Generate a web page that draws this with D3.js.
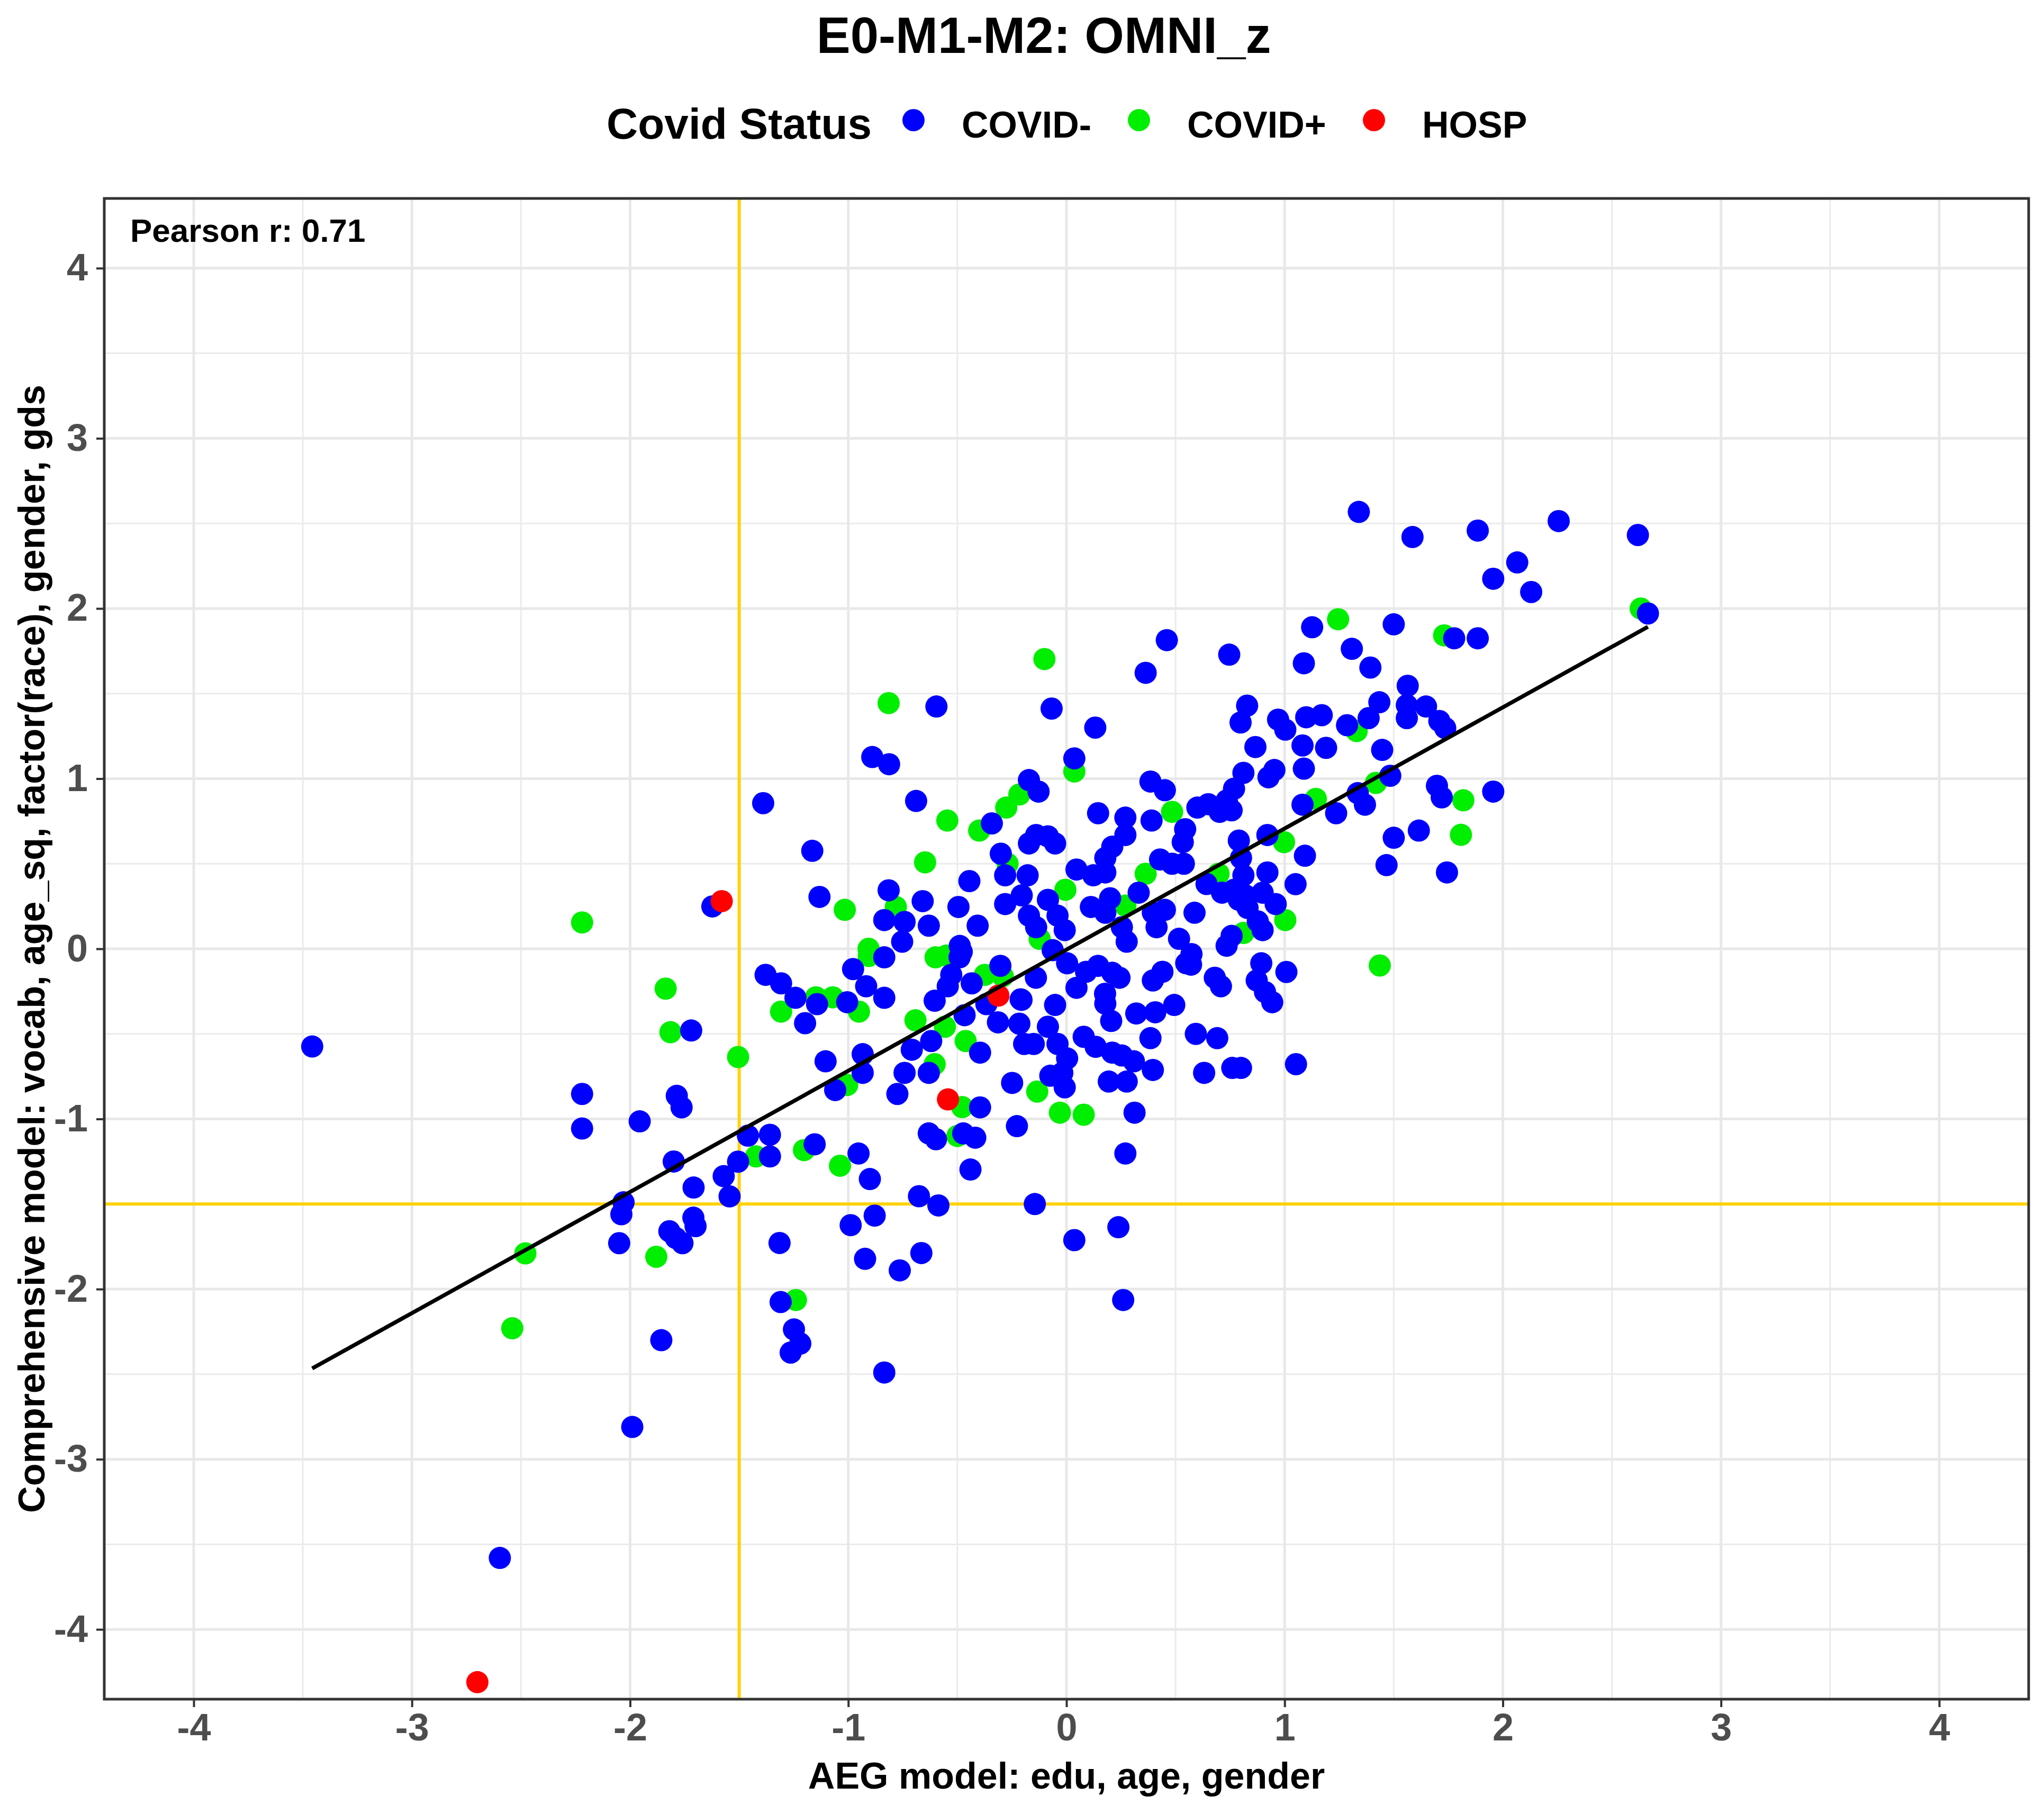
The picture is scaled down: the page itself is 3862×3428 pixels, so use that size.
<!DOCTYPE html>
<html><head><meta charset="utf-8">
<script src="https://cdn.jsdelivr.net/npm/d3@7"></script>
<style>body{margin:0;background:#fff} svg{display:block}</style>
</head><body>
<svg id="chart" width="3862" height="3428"></svg>
<script>
// ---- data ----
const covidNeg = [
[-3.457,-0.574],[-2.597,-3.58],[-1.99,-2.81],[-1.857,-2.30],
[-1.72,-0.48],[-2.22,-0.853],[-2.22,-1.056],[-1.956,-1.014],[-1.786,-0.864],[-1.764,-0.932],[-1.80,-1.25],[-1.709,-1.403],[-1.571,-1.336],[-1.505,-1.251],[-1.544,-1.455],[-1.46,-1.098],[-1.359,-1.093],[-1.359,-1.22],[-1.154,-1.149],[-0.953,-1.203],[-0.901,-1.353],[-0.989,-1.624],[-0.879,-1.568],[-0.923,-1.822],[-0.764,-1.89],[-0.676,-1.454],[-0.665,-1.788],[-2.03,-1.49],[-2.04,-1.56],[-2.05,-1.73],[-1.82,-1.66],[-1.79,-1.70],[-1.76,-1.73],[-1.71,-1.58],[-1.70,-1.63],[-1.315,-1.729],[-1.31,-2.076],[-1.249,-2.237],[-1.22,-2.32],[-1.264,-2.373],[-0.835,-2.49],
[-1.379,-0.153],[-1.308,-0.203],[-1.242,-0.288],[-1.198,-0.437],[-1.143,-0.325],[-1.005,-0.314],[-0.978,-0.119],[-0.918,-0.22],[-0.835,-0.288],[-0.835,-0.05],[-1.104,-0.661],[-0.934,-0.619],[-0.934,-0.729],[-1.06,-0.83],[-0.742,-0.729],[-0.775,-0.853],[-0.709,-0.593],
[-0.396,-0.932],[-0.631,-1.085],[-0.598,-1.119],[-0.473,-1.085],[-0.418,-1.11],[-0.44,-1.297],[-0.227,-1.042],[-0.249,-0.788],[0.312,-0.963],[0.27,-1.203],[-0.587,-1.508],[-0.145,-1.5],[0.238,-1.636],[0.036,-1.712],[0.26,-2.064],[0.631,-0.729],[0.76,-0.70],[0.80,-0.70],[0.593,-0.5],[0.691,-0.525],[1.052,-0.678],[1.008,-0.136],[0.893,-0.085],[0.872,-0.186],[0.910,-0.254],[0.943,-0.314],[0.68,-0.17],[0.708,-0.22],[0.571,-0.093],[0.396,-0.186],[0.44,-0.135],[0.494,-0.33],[0.407,-0.373],[0.385,-0.525],[0.32,-0.38],[0.549,-0.085],[0.205,-0.424],[0.178,-0.322],[0.243,-0.17],[0.145,-0.1],[0.09,-0.135],[0.046,-0.229],[0.003,-0.085],[0.079,-0.517],[0.134,-0.576],[0.21,-0.61],[0.254,-0.627],[0.309,-0.661],[0.396,-0.712],[0.276,-0.78],[0.194,-0.78],[-0.085,-0.458],[-0.052,-0.33],[-0.041,-0.559],[0.003,-0.644],[-0.019,-0.729],[-0.074,-0.746],[-0.008,-0.814],[-0.194,-0.559],[-0.15,-0.559],[-0.216,-0.44],[-0.314,-0.432],[-0.21,-0.297],[-0.396,-0.61],[-0.62,-0.542],[-0.631,-0.729],[-0.467,-0.39],[-0.604,-0.305],[-0.544,-0.22],[-0.434,-0.203],[-0.303,-0.1],[-0.14,-0.17],[-0.49,-0.05],
[-0.48,-0.018],[-0.528,-0.153],[-0.367,-0.325],[-0.206,-0.3],
[0.573,-0.031],[0.21,-0.141],[0.177,-0.264],[0.79,0.288],[0.83,0.24],[0.734,0.018],
[0.46,1.814],[0.746,1.729],[0.363,1.622],[-0.596,1.424],[-0.068,1.412],[0.132,1.3],[0.036,1.119],[0.828,1.429],[0.798,1.33],[0.97,1.347],[1.003,1.288],[0.866,1.186],[0.811,1.034],[0.768,0.941],[0.735,0.873],[0.702,0.805],[0.757,0.814],[0.953,1.051],[0.926,1.008],[0.385,0.983],[0.451,0.932],[0.60,0.83],[0.65,0.85],[0.921,0.669],[0.79,0.636],[0.39,0.754],[0.544,0.703],[0.533,0.627],[0.145,0.797],[0.27,0.771],[0.27,0.669],[0.21,0.6],[0.178,0.534],[0.178,0.449],[0.123,0.432],[0.046,0.466],[0.429,0.525],[0.484,0.5],[0.538,0.5],[0.642,0.381],[0.8,0.534],[0.811,0.432],[0.768,0.347],[0.713,0.33],[0.822,0.313],[0.899,0.33],[0.921,0.449],[0.959,0.263],[0.877,0.161],[0.587,0.212],[0.331,0.33],[0.396,0.212],[0.451,0.229],[0.413,0.127],[0.2,0.297],[0.112,0.246],[0.178,0.212],[0.254,0.127],[0.276,0.042],[0.516,0.059],[0.757,0.076],[0.899,0.11],[-0.085,0.288],[-0.041,0.195],[-0.008,0.11],[-0.063,-0.008],[-0.085,0.661],[-0.052,0.619],[-0.139,0.669],[-0.172,0.619],[-0.172,0.992],[-0.128,0.924],[-0.342,0.737],[-0.301,0.559],[-0.281,0.432],[-0.445,0.398],[-0.178,0.432],[-0.205,0.314],[-0.281,0.263],[-0.172,0.195],[-0.139,0.127],[-0.495,0.246],[-0.407,0.136],[-0.631,0.136],[-0.489,0.017],
[-0.89,1.127],[-0.813,1.085],[-1.39,0.856],[-0.689,0.869],[-1.165,0.576],[-1.132,0.305],[-1.623,0.249],[-0.815,0.344],[-0.835,0.169],[-0.742,0.158],[-0.659,0.28],[-0.753,0.042],
[1.34,2.568],[1.586,2.42],[1.885,2.458],[2.256,2.514],[2.619,2.432],[2.066,2.271],[1.956,2.175],[2.13,2.097],[2.665,1.971],[1.126,1.89],[1.5,1.907],[1.777,1.825],[1.885,1.825],[1.308,1.763],[1.088,1.678],[1.393,1.653],[1.564,1.546],[1.434,1.449],[1.56,1.432],[1.56,1.356],[1.648,1.424],[1.709,1.339],[1.736,1.297],[1.099,1.361],[1.17,1.373],[1.286,1.314],[1.385,1.356],[1.082,1.195],[1.19,1.181],[1.447,1.169],[1.088,1.059],[1.484,1.017],[1.698,0.958],[1.72,0.89],[1.956,0.924],[1.335,0.915],[1.368,0.847],[1.082,0.847],[1.236,0.797],[1.5,0.653],[1.615,0.695],[1.093,0.547],[1.467,0.492],[1.744,0.449],[1.05,0.38]
];
const covidPos = [
[-2.22,0.155],[-2.54,-2.23],[-2.48,-1.79],[-1.88,-1.81],[-1.837,-0.234],[-1.815,-0.49],[-1.505,-0.636],[-1.423,-1.22],[-1.203,-1.183],[-1.038,-1.275],[-1.24,-2.064],[-1.308,-0.369],[-1.148,-0.285],[-1.071,-0.285],[-0.951,-0.369],[-0.906,-0.042],[-0.692,-0.42],[-1.005,-0.80],[-1.016,0.229],[-0.815,1.444],[-0.782,0.246],[-0.907,0.0],[-0.648,0.508],[-0.546,0.754],[-0.4,0.695],[-0.276,0.83],[-0.216,0.907],[-0.101,1.703],[0.036,1.042],[-0.27,0.5],[-0.005,0.347],[-0.123,0.059],[-0.60,-0.05],[-0.55,-0.04],[-0.374,-0.153],[-0.292,-0.161],[-0.557,-0.458],[-0.462,-0.542],[-0.604,-0.678],[-0.478,-0.93],[-0.5,-1.10],[-0.134,-0.839],[-0.03,-0.963],[0.079,-0.975],[0.484,0.805],[0.363,0.441],[0.697,0.441],[0.27,0.254],[0.997,0.627],[1.003,0.169],[0.811,0.093],[1.245,1.937],[1.731,1.842],[2.632,2.0],[1.33,1.28],[1.418,0.975],[1.819,0.873],[1.143,0.881],[1.808,0.67],[1.436,-0.098]
];
const hosp = [[-2.70,-4.31],[-1.58,0.28],[-0.543,-0.885],[-0.312,-0.275]];

const xTicks = [-4,-3,-2,-1,0,1,2,3,4];
const yTicks = [-4,-3,-2,-1,0,1,2,3,4];
const minorBreaks = [-3.5,-2.5,-1.5,-0.5,0.5,1.5,2.5,3.5];
const axisDomain = [-4.41, 4.41];
const cutoffX = -1.5, cutoffY = -1.5;
const fitX = [-3.457, 2.665];
const fitIntercept = -0.005, fitSlope = 0.712;
const pearsonR = "0.71";
const legendItems = [
  {label:"COVID-", color:"#0000ff"},
  {label:"COVID+", color:"#00ee00"},
  {label:"HOSP",   color:"#ff0000"}
];

// ---- layout ----
const FONT = "'Liberation Sans', Arial, Helvetica, sans-serif";
const P = {left:197, right:3833, top:375, bottom:3211};
const svg = d3.select("#chart");
svg.append("rect").attr("width",3862).attr("height",3428).attr("fill","#fff");

const x = d3.scaleLinear().domain(axisDomain).range([P.left, P.right]);
const y = d3.scaleLinear().domain(axisDomain).range([P.bottom, P.top]);

svg.append("defs").append("clipPath").attr("id","panel")
  .append("rect").attr("x",P.left).attr("y",P.top)
  .attr("width",P.right-P.left).attr("height",P.bottom-P.top);

const g = svg.append("g").attr("clip-path","url(#panel)");

// grid
g.selectAll(".vmin").data(minorBreaks).join("line")
  .attr("x1",d=>x(d)).attr("x2",d=>x(d)).attr("y1",P.top).attr("y2",P.bottom)
  .attr("stroke","#ebebeb").attr("stroke-width",3);
g.selectAll(".hmin").data(minorBreaks).join("line")
  .attr("y1",d=>y(d)).attr("y2",d=>y(d)).attr("x1",P.left).attr("x2",P.right)
  .attr("stroke","#ebebeb").attr("stroke-width",3);
g.selectAll(".vmaj").data(xTicks).join("line")
  .attr("x1",d=>x(d)).attr("x2",d=>x(d)).attr("y1",P.top).attr("y2",P.bottom)
  .attr("stroke","#e8e8e8").attr("stroke-width",5);
g.selectAll(".hmaj").data(yTicks).join("line")
  .attr("y1",d=>y(d)).attr("y2",d=>y(d)).attr("x1",P.left).attr("x2",P.right)
  .attr("stroke","#e8e8e8").attr("stroke-width",5);

// cutoff lines
g.append("line").attr("x1",x(cutoffX)).attr("x2",x(cutoffX)).attr("y1",P.top).attr("y2",P.bottom)
  .attr("stroke","#ffd200").attr("stroke-width",6);
g.append("line").attr("x1",P.left).attr("x2",P.right).attr("y1",y(cutoffY)).attr("y2",y(cutoffY))
  .attr("stroke","#ffd200").attr("stroke-width",6);

// points
const R = 21;
const groups = [
  {data: covidPos, color: legendItems[1].color},
  {data: covidNeg, color: legendItems[0].color},
  {data: hosp, color: legendItems[2].color}
];
groups.forEach(grp => {
  g.append("g").selectAll("circle").data(grp.data).join("circle")
    .attr("cx",d=>x(d[0])).attr("cy",d=>y(d[1])).attr("r",R)
    .attr("fill",grp.color);
});

// regression line
const fitPts = fitX.map(v => [v, fitIntercept + fitSlope*v]);
g.append("path").attr("d", d3.line().x(d=>x(d[0])).y(d=>y(d[1]))(fitPts))
  .attr("stroke","#000").attr("stroke-width",7.5).attr("fill","none");

// pearson label
svg.append("text").attr("x",P.left+49).attr("y",P.top+82)
  .attr("font-family",FONT).attr("font-weight","bold").attr("font-size",62)
  .attr("fill","#000").text("Pearson r: " + pearsonR);

// panel border
svg.append("rect").attr("x",P.left).attr("y",P.top)
  .attr("width",P.right-P.left).attr("height",P.bottom-P.top)
  .attr("fill","none").attr("stroke","#333").attr("stroke-width",5);

// axes
const xAxis = svg.append("g").attr("transform",`translate(0,${P.bottom})`)
  .call(d3.axisBottom(x).tickValues(xTicks).tickSize(15).tickPadding(12).tickFormat(d3.format("d")));
const yAxis = svg.append("g").attr("transform",`translate(${P.left},0)`)
  .call(d3.axisLeft(y).tickValues(yTicks).tickSize(15).tickPadding(16).tickFormat(d3.format("d")));
[xAxis,yAxis].forEach(a=>{
  a.select(".domain").remove();
  a.selectAll(".tick line").attr("stroke","#333").attr("stroke-width",4);
  a.selectAll(".tick text").attr("font-family",FONT).attr("font-weight","bold")
    .attr("font-size",72).attr("fill","#4d4d4d");
});
xAxis.selectAll(".tick text").text(d=>String(d));
yAxis.selectAll(".tick text").text(d=>String(d));

// axis titles
svg.append("text").attr("x",(P.left+P.right)/2).attr("y",3380)
  .attr("text-anchor","middle").attr("font-family",FONT).attr("font-weight","bold")
  .attr("font-size",70).attr("fill","#000").text("AEG model: edu, age, gender");
svg.append("text").attr("transform",`translate(84,${(P.top+P.bottom)/2}) rotate(-90)`)
  .attr("text-anchor","middle").attr("font-family",FONT).attr("font-weight","bold")
  .attr("font-size",70).attr("fill","#000")
  .text("Comprehensive model: vocab, age_sq, factor(race), gender, gds");

// title
svg.append("text").attr("x",1972).attr("y",100).attr("text-anchor","middle")
  .attr("font-family",FONT).attr("font-weight","bold").attr("font-size",96)
  .attr("fill","#000").text("E0-M1-M2: OMNI_z");

// legend
svg.append("text").attr("x",1146).attr("y",262).attr("font-family",FONT)
  .attr("font-weight","bold").attr("font-size",82).attr("fill","#000").text("Covid Status");
const legendDotX = [1726, 2152, 2596];
const leg = svg.append("g");
legendItems.forEach((it,i)=>{
  leg.append("circle").attr("cx",legendDotX[i]).attr("cy",227).attr("r",R).attr("fill",it.color);
  leg.append("text").attr("x",legendDotX[i]+91).attr("y",260).attr("font-family",FONT)
    .attr("font-weight","bold").attr("font-size",70).attr("fill","#000").text(it.label);
});
</script>
</body></html>
